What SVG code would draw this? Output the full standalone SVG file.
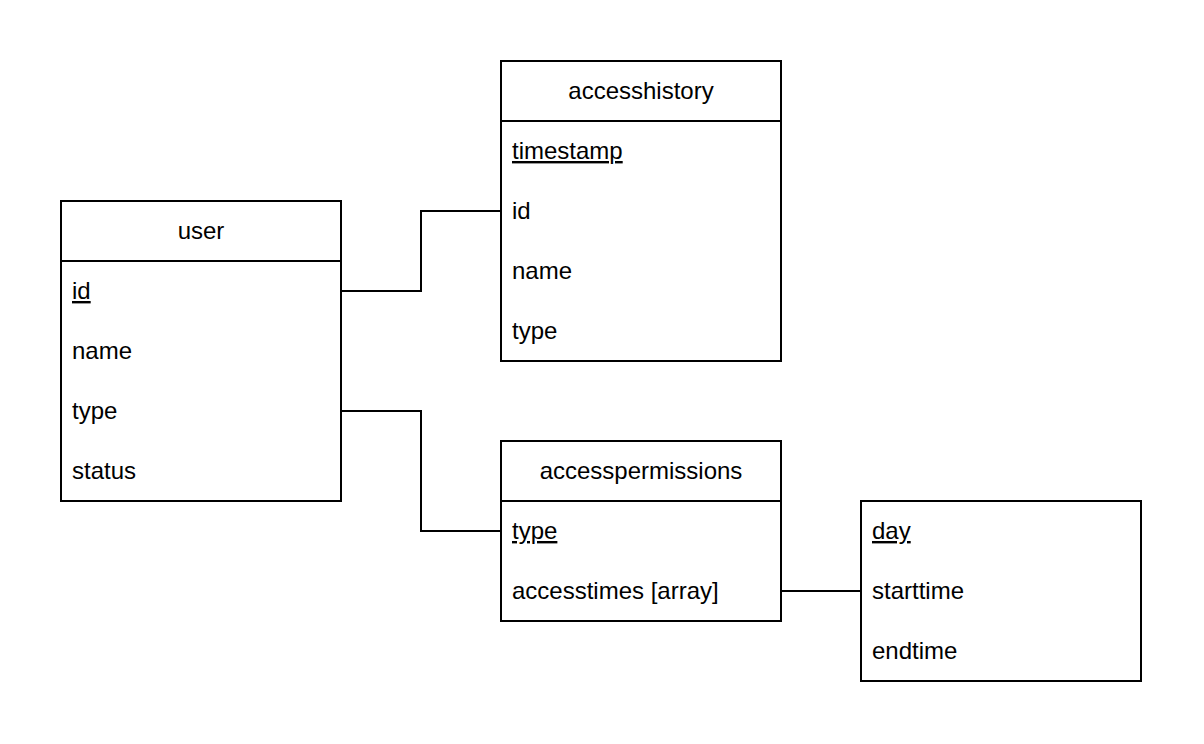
<svg xmlns="http://www.w3.org/2000/svg" width="1204" height="744" viewBox="0 0 1204 744">
<style>
.box{fill:#fff;stroke:#000;stroke-width:2}
.sep{stroke:#000;stroke-width:2}
.conn{fill:none;stroke:#000;stroke-width:2}
text{font-family:"Liberation Sans",Arial,sans-serif;font-size:24px;fill:#000}
.hd{text-anchor:middle}
.pk{text-decoration:underline}
</style>
<rect width="1204" height="744" fill="#fff"/>
<g id="connectors">
<polyline class="conn" points="341,291 421,291 421,211 501,211"/>
<polyline class="conn" points="341,411 421,411 421,531 501,531"/>
<polyline class="conn" points="781,591 861,591"/>
</g>
<g id="user">
<rect class="box" x="61" y="201" width="280" height="300"/>
<line class="sep" x1="61" y1="261" x2="341" y2="261"/>
<text class="hd" x="201" y="239">user</text>
<text class="pk" x="72" y="299">id</text>
<text x="72" y="359">name</text>
<text x="72" y="419">type</text>
<text x="72" y="479">status</text>
</g>
<g id="accesshistory">
<rect class="box" x="501" y="61" width="280" height="300"/>
<line class="sep" x1="501" y1="121" x2="781" y2="121"/>
<text class="hd" x="641" y="99">accesshistory</text>
<text class="pk" x="512" y="159">timestamp</text>
<text x="512" y="219">id</text>
<text x="512" y="279">name</text>
<text x="512" y="339">type</text>
</g>
<g id="accesspermissions">
<rect class="box" x="501" y="441" width="280" height="180"/>
<line class="sep" x1="501" y1="501" x2="781" y2="501"/>
<text class="hd" x="641" y="479">accesspermissions</text>
<text class="pk" x="512" y="539">type</text>
<text x="512" y="599">accesstimes [array]</text>
</g>
<g id="accesstimes">
<rect class="box" x="861" y="501" width="280" height="180"/>
<text class="pk" x="872" y="539">day</text>
<text x="872" y="599">starttime</text>
<text x="872" y="659">endtime</text>
</g>
</svg>
